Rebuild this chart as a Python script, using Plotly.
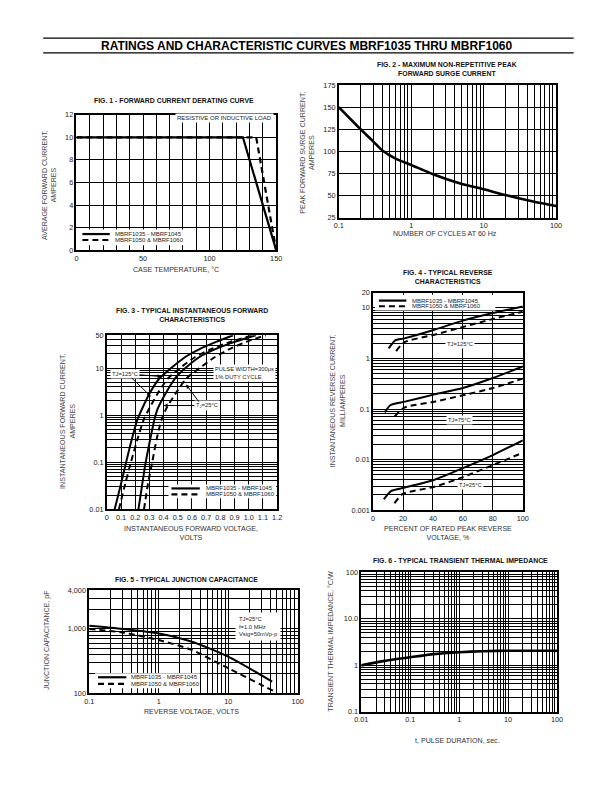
import numpy as np
import plotly.graph_objects as go

W, H = 612, 792
FONT = "Liberation Sans, Arial, Helvetica, sans-serif"

def px(x):
    return x / W

def py(y):
    return 1 - y / H

# ---------------- data ----------------
# Fig.1 forward current derating
f1_temp_solid = [0, 125, 150]
f1_amp_solid = [10, 10, 0]
f1_temp_dash = [0, 135, 150]
f1_amp_dash = [10, 10, 0]

# Fig.2 surge current
f2_cycles = [0.1, 0.2, 0.3, 0.4, 0.6, 1, 2, 5, 10, 20, 50, 100]
f2_amps = [150, 125, 111, 101, 92, 84.5, 74, 63, 57, 50.5, 43, 38]

# Fig.3 forward characteristics
f3_v_s125 = [0.055, 0.095, 0.136, 0.175, 0.215, 0.25, 0.297, 0.37, 0.453, 0.55, 0.65, 0.77, 0.89]
f3_i_s125 = [0.01, 0.03, 0.1, 0.3, 0.8, 1.4, 2.75, 6, 10, 17, 25, 36, 50]
f3_v_d125 = [0.085, 0.13, 0.17, 0.215, 0.26, 0.30, 0.354, 0.43, 0.515, 0.62, 0.73, 0.87, 1.03]
f3_i_d125 = [0.01, 0.035, 0.1, 0.3, 0.8, 1.4, 2.75, 6, 10, 17, 25, 36, 50]
f3_v_s25 = [0.223, 0.25, 0.274, 0.305, 0.335, 0.36, 0.41, 0.48, 0.554, 0.65, 0.76, 0.9, 1.05]
f3_i_s25 = [0.01, 0.035, 0.1, 0.3, 0.8, 1.4, 2.75, 6, 10, 17, 25, 36, 50]
f3_v_d25 = [0.262, 0.29, 0.32, 0.35, 0.385, 0.42, 0.48, 0.56, 0.653, 0.76, 0.86, 0.98, 1.12]
f3_i_d25 = [0.01, 0.035, 0.1, 0.3, 0.8, 1.4, 2.75, 6, 10, 17, 25, 36, 50]

# Fig.4 reverse characteristics
f4_p_s125 = [10.4, 14.8, 21, 41, 60, 80, 100]
f4_i_s125 = [1.58, 2.29, 2.5, 3.7, 5.6, 7.9, 10.7]
f4_p_d125 = [15.4, 20.9, 41, 60, 80, 100]
f4_i_d125 = [1.4, 2.1, 2.95, 4.2, 6.05, 8.4]
f4_p_s75 = [7.8, 11.5, 21.3, 41, 60, 80, 100]
f4_i_s75 = [0.086, 0.119, 0.14, 0.195, 0.26, 0.41, 0.695]
f4_p_d75 = [14.3, 20.9, 41, 60, 80, 100]
f4_i_d75 = [0.071, 0.107, 0.14, 0.187, 0.26, 0.40]
f4_p_s25 = [7.2, 12.2, 21.3, 41, 60, 80, 100]
f4_i_s25 = [0.00164, 0.0024, 0.0028, 0.0040, 0.0068, 0.0123, 0.024]
f4_p_d25 = [14.3, 19.8, 41, 60, 80, 100]
f4_i_d25 = [0.00137, 0.0021, 0.0029, 0.0045, 0.0078, 0.0137]

# Fig.5 junction capacitance
f5_v_solid = [0.1, 0.3, 1, 3, 10, 43]
f5_c_solid = [1120, 1000, 851, 632, 370, 151]
f5_v_dash = [0.1, 0.3, 1, 3, 10, 49]
f5_c_dash = [1000, 880, 671, 470, 244, 103]

# Fig.6 transient thermal impedance
f6_t = [0.01, 0.03, 0.1, 0.3, 1, 3, 10, 100]
f6_z = [1.0, 1.25, 1.5, 1.75, 1.92, 2.02, 2.07, 2.07]

LEG_SOLID = "MBRF1035 - MBRF1045"
LEG_DASH = "MBRF1050 & MBRF1060"

# ---------------- helpers ----------------
DASH = "6px,4px"


def log_minor(lo, hi):
    vals = []
    e = int(np.floor(np.log10(lo)))
    while 10 ** e < hi:
        for m in range(2, 10):
            v = m * 10 ** e
            if lo < v < hi:
                vals.append(v)
        e += 1
    return vals


def axis(domain, anchor, **kw):
    d = dict(domain=domain, anchor=anchor, showline=True, mirror=True,
             linecolor="black", linewidth=1.6, showgrid=True,
             gridcolor="black", gridwidth=1, zeroline=False, ticks="",
             tickfont=dict(family=FONT, size=7.3, color="#222"),
             fixedrange=True)
    d.update(kw)
    return d


def minor_grid(**kw):
    d = dict(showgrid=True, gridcolor="black", gridwidth=1, ticks="")
    d.update(kw)
    return d


fig = go.Figure()


def line(x, y, xa, ya, dash=False, width=2.0):
    fig.add_trace(go.Scatter(
        x=x, y=y, xaxis=xa, yaxis=ya, mode="lines", showlegend=False,
        line=dict(color="black", width=width, dash=DASH if dash else "solid",
                  shape="spline", smoothing=0.6),
        hoverinfo="skip"))


# Fig 1
fig.add_trace(go.Scatter(x=f1_temp_dash, y=f1_amp_dash, xaxis="x", yaxis="y",
                         mode="lines", showlegend=False,
                         line=dict(color="black", width=2.2, dash=DASH)))
fig.add_trace(go.Scatter(x=f1_temp_solid, y=f1_amp_solid, xaxis="x", yaxis="y",
                         mode="lines", showlegend=False,
                         line=dict(color="black", width=2.2)))
# Fig 2
line(f2_cycles, f2_amps, "x2", "y2", width=2.6)
# Fig 3
line(f3_v_d125, f3_i_d125, "x3", "y3", dash=True)
line(f3_v_d25, f3_i_d25, "x3", "y3", dash=True)
line(f3_v_s125, f3_i_s125, "x3", "y3")
line(f3_v_s25, f3_i_s25, "x3", "y3")
# Fig 4
line(f4_p_d125, f4_i_d125, "x4", "y4", dash=True)
line(f4_p_d75, f4_i_d75, "x4", "y4", dash=True)
line(f4_p_d25, f4_i_d25, "x4", "y4", dash=True)
line(f4_p_s125, f4_i_s125, "x4", "y4")
line(f4_p_s75, f4_i_s75, "x4", "y4")
line(f4_p_s25, f4_i_s25, "x4", "y4")
# Fig 5
line(f5_v_dash, f5_c_dash, "x5", "y5", dash=True)
line(f5_v_solid, f5_c_solid, "x5", "y5")
# Fig 6
line(f6_t, f6_z, "x6", "y6", width=2.6)

layout = dict(
    width=W, height=H, margin=dict(l=0, r=0, t=0, b=0),
    paper_bgcolor="white", plot_bgcolor="white", showlegend=False,
    font=dict(family=FONT, color="#222"),
)

# Fig1 axes
layout["xaxis"] = axis([px(71), px(275)], "y", range=[0, 150],
                       tickvals=[0, 50, 100, 150],
                       minor=minor_grid(dtick=10, tick0=0))
layout["yaxis"] = axis([py(249), py(112)], "x", range=[0, 12], dtick=2)
# Fig2 axes
layout["xaxis2"] = axis([px(339), px(561)], "y2", type="log", range=[-1, 2],
                        tickvals=[0.1, 1, 10, 100], ticktext=["0.1", "1", "10", "100"],
                        minor=minor_grid(tickmode="array", tickvals=log_minor(0.1, 100)))
layout["yaxis2"] = axis([py(216), py(82)], "x2", range=[25, 175], dtick=25)
# Fig3 axes
layout["xaxis3"] = axis([px(102), px(276)], "y3", range=[0, 1.2],
                        tickvals=[round(0.1 * i, 1) for i in range(13)],
                        ticktext=["0", "0.1", "0.2", "0.3", "0.4", "0.5", "0.6", "0.7",
                                  "0.8", "0.9", "1.0", "1.1", "1.2"])
layout["yaxis3"] = axis([py(511), py(335)], "x3", type="log",
                        range=[-2, np.log10(50)],
                        tickvals=[0.01, 0.1, 1, 10, 50],
                        ticktext=["0.01", "0.1", "1", "10", "50"],
                        minor=minor_grid(tickmode="array", tickvals=log_minor(0.01, 50)))
# Fig4 axes
layout["xaxis4"] = axis([px(374), px(527)], "y4", range=[0, 100],
                        tickvals=[0, 20, 40, 60, 80, 100])
layout["yaxis4"] = axis([py(512), py(292)], "x4", type="log",
                        range=[-3, np.log10(20)],
                        tickvals=[0.001, 0.01, 0.1, 1, 10, 20],
                        ticktext=["0.001", "0.01", "0.1", "1", "10", "20"],
                        minor=minor_grid(tickmode="array", tickvals=log_minor(0.001, 10)))
# Fig5 axes
layout["xaxis5"] = axis([px(84), px(297)], "y5", type="log", range=[-1, 2],
                        tickvals=[0.1, 1, 10, 100], ticktext=["0.1", "1", "10", "100"],
                        minor=minor_grid(tickmode="array", tickvals=log_minor(0.1, 100)))
layout["yaxis5"] = axis([py(697), py(593)], "x5", type="log",
                        range=[2, np.log10(4000)],
                        tickvals=[100, 1000, 4000], ticktext=["100", "1,000", "4,000"],
                        minor=minor_grid(tickmode="array", tickvals=log_minor(100, 4000)))
# Fig6 axes
layout["xaxis6"] = axis([px(362), px(562)], "y6", type="log", range=[-1, 2],
                        tickvals=[0.01, 0.1, 1, 10, 100],
                        ticktext=["0.01", "0.1", "1", "10", "100"],
                        minor=minor_grid(tickmode="array", tickvals=log_minor(0.01, 100)))
layout["xaxis6"]["range"] = [-2, 2]
layout["yaxis6"] = axis([py(716), py(575)], "x6", type="log", range=[-1, 2],
                        tickvals=[0.1, 1, 10, 100], ticktext=["0.1", "1", "10.0", "100"],
                        minor=minor_grid(tickmode="array", tickvals=log_minor(0.1, 100)))

fig.update_layout(**layout)

ann = []
shapes = []


def A(x, y, text, size=6.5, color="#111", xa="center", ya="middle", angle=0, **kw):
    d = dict(x=px(x), y=py(y), xref="paper", yref="paper", text=text, showarrow=False,
             font=dict(family=FONT, size=size, color=color), xanchor=xa, yanchor=ya,
             textangle=angle)
    d.update(kw)
    ann.append(d)


# header
A(306, 42, "<b>RATINGS AND CHARACTERISTIC CURVES MBRF1035 THRU MBRF1060</b>", size=12, color="#000")
shapes.append(dict(type="line", xref="paper", yref="paper", x0=px(37), x1=px(579),
                   y0=py(34.5), y1=py(34.5), line=dict(color="black", width=1.2)))
shapes.append(dict(type="line", xref="paper", yref="paper", x0=px(37), x1=px(579),
                   y0=py(49.5), y1=py(49.5), line=dict(color="black", width=1.2)))

# figure titles
TS = 6.9
A(171, 98, "<b>FIG. 1 - FORWARD CURRENT DERATING CURVE</b>", TS)
A(450, 66, "<b>FIG. 2 - MAXIMUM NON-REPETITIVE PEAK<br>FORWARD SURGE CURRENT</b>", TS)
A(189, 315, "<b>FIG. 3 - TYPICAL INSTANTANEOUS FORWARD<br>CHARACTERISTICS</b>", TS)
A(451, 276, "<b>FIG. 4 - TYPICAL REVERSE<br>CHARACTERISTICS</b>", TS)
A(183, 582, "<b>FIG. 5 - TYPICAL JUNCTION CAPACITANCE</b>", TS)
A(463, 563, "<b>FIG. 6 - TYPICAL TRANSIENT THERMAL IMPEDANCE</b>", TS)

# x-axis titles
XS = 7.1
XC = "#333"
A(173, 269, "CASE TEMPERATURE, °C", XS, XC)
A(448, 233, "NUMBER OF CYCLES AT 60 Hz", XS, XC)
A(188, 536, "INSTANTANEOUS FORWARD VOLTAGE,<br>VOLTS", XS, XC)
A(451, 536, "PERCENT OF RATED PEAK REVERSE<br>VOLTAGE, %", XS, XC)
A(189, 716, "REVERSE VOLTAGE, VOLTS", XS, XC)
A(460, 745, "t, PULSE DURATION, sec.", XS, XC)

# y-axis titles
YC = "#444"
A(44, 183, "AVERAGE FORWARD CURRENT,<br>AMPERES", XS, YC, angle=-90)
A(307, 150, "PEAK FORWARD SURGE CURRENT,<br>AMPERES", XS, YC, angle=-90)
A(62, 422, "INSTANTANEOUS FORWARD CURRENT,<br>AMPERES", XS, YC, angle=-90)
A(338, 401, "INSTANTANEOUS REVERSE CURRENT,<br>MILLIAMPERES", XS, YC, angle=-90)
A(41, 643, "JUNCTION CAPACITANCE, pF", XS, YC, angle=-90)
A(331, 644, "TRANSIENT THERMAL IMPEDANCE, °C/W", XS, YC, angle=-90)


# legends (white box + sample lines + labels)
def legend_box(x0, x1, y0, y1, ys, yd, lx0, lx1, tx, size=6):
    shapes.append(dict(type="rect", xref="paper", yref="paper", x0=px(x0), x1=px(x1),
                       y0=py(y1), y1=py(y0), fillcolor="white", line=dict(width=0),
                       layer="above"))
    shapes.append(dict(type="line", xref="paper", yref="paper", x0=px(lx0), x1=px(lx1),
                       y0=py(ys), y1=py(ys), line=dict(color="black", width=2.2),
                       layer="above"))
    shapes.append(dict(type="line", xref="paper", yref="paper", x0=px(lx0), x1=px(lx1),
                       y0=py(yd), y1=py(yd), line=dict(color="black", width=2.2, dash="6px,4px"),
                       layer="above"))
    A(tx, ys, LEG_SOLID, size, "#222", xa="left")
    A(tx, yd, LEG_DASH, size, "#222", xa="left")


legend_box(73, 180, 228, 244, 232.7, 238.7, 77, 105, 108)
legend_box(165, 275, 486, 500, 490, 496, 168, 197, 201)
legend_box(376, 499, 294, 310, 300, 305.7, 380, 408, 412)
legend_box(90, 197, 677, 692, 681, 687.7, 93, 122, 125)

# Fig 1 note
ann.append(dict(x=148.5, y=11.68, xref="x", yref="y", text="RESISTIVE OR INDUCTIVE LOAD",
                showarrow=False, xanchor="right", font=dict(family=FONT, size=6, color="#222"),
                bgcolor="white"))

# Fig 4 notes
for xx, yy, t in [(58, 1.9, "TJ=125°C"), (58, 0.061, "TJ=75°C"), (64.8, 0.0031, "TJ=25°C")]:
    ann.append(dict(x=xx, y=np.log10(yy), xref="x4", yref="y4", text=t, showarrow=False,
                    font=dict(family=FONT, size=5.8, color="#222"), bgcolor="white",
                    borderpad=1))

# Fig 3 notes with arrows
AF = dict(family=FONT, size=5.8, color="#222")
ann.append(dict(x=0.386, y=np.log10(6.6), xref="x3", yref="y3", ax=0.128, ay=np.log10(7.6),
                axref="x3", ayref="y3", text="TJ=125°C", showarrow=True, arrowhead=2,
                arrowsize=0.8, arrowwidth=1, arrowcolor="black", font=AF, bgcolor="white"))
ann.append(dict(x=0.31, y=np.log10(2.5), xref="x3", yref="y3", ax=0.165, ay=np.log10(6.6),
                axref="x3", ayref="y3", text="", showarrow=True, arrowhead=2,
                arrowsize=0.8, arrowwidth=1, arrowcolor="black"))
ann.append(dict(x=0.40, y=np.log10(1.6), xref="x3", yref="y3", ax=0.705, ay=np.log10(1.6),
                axref="x3", ayref="y3", text="T<sub>J</sub>=25°C", showarrow=True, arrowhead=2,
                arrowsize=0.8, arrowwidth=1, arrowcolor="black", font=AF, bgcolor="white"))
ann.append(dict(x=0.559, y=np.log10(4.46), xref="x3", yref="y3", ax=0.655, ay=np.log10(1.8),
                axref="x3", ayref="y3", text="", showarrow=True, arrowhead=2,
                arrowsize=0.8, arrowwidth=1, arrowcolor="black"))
ann.append(dict(x=0.745, y=np.log10(7.8), xref="x3", yref="y3",
                text="PULSE WIDTH=300μs<br>1% DUTY CYCLE", showarrow=False, xanchor="left",
                align="left", font=AF, bgcolor="white"))

# Fig 5 note
ann.append(dict(x=np.log10(12.4), y=np.log10(1080), xref="x5", yref="y5",
                text="TJ=25°C<br>f=1.0 MHz<br>Vsig=50mVp-p", showarrow=False, xanchor="left",
                align="left", font=AF, bgcolor="white", borderpad=3))

fig.update_layout(annotations=ann, shapes=shapes)
fig.write_html("out.html", config={"displayModeBar": False},
               post_script="document.body.style.margin='0';document.body.style.overflow='hidden';")
